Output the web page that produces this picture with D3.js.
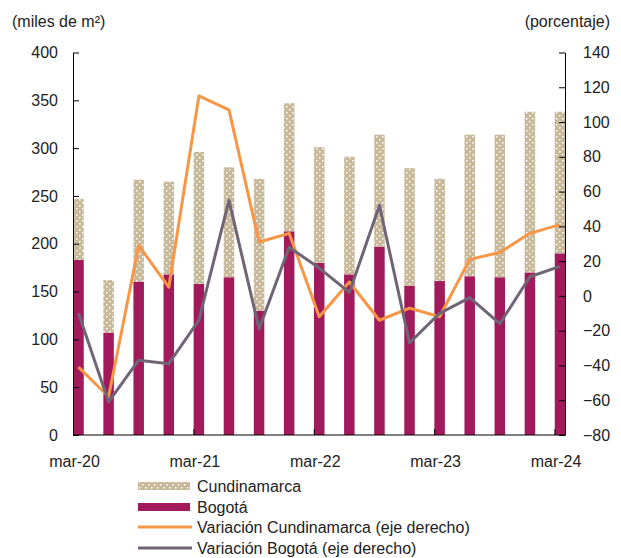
<!DOCTYPE html>
<html>
<head>
<meta charset="utf-8">
<script src="https://cdn.jsdelivr.net/npm/d3@7"></script>
<style>
  body { margin: 0; background: #fff; }
  text { font-family: "Liberation Sans", Arial, sans-serif; fill: #222; }
  .axis path, .axis line { stroke: #000; }
</style>
</head>
<body>
<div class="graph"></div>
<script>
// quarters mar-20 .. mar-24
const quarters = ["mar-20","jun-20","sep-20","dic-20","mar-21","jun-21","sep-21","dic-21",
                  "mar-22","jun-22","sep-22","dic-22","mar-23","jun-23","sep-23","dic-23","mar-24"];
const bogota = [183, 107, 160, 168, 158, 165, 130, 213, 180, 168, 197, 156, 161, 166, 165, 170, 190];
const cundinamarca = [64, 55, 107, 97, 138, 115, 138, 134, 121, 123, 117, 123, 107, 148, 149, 168, 148];
const varCundinamarca = [-41, -58, 29, 5, 115, 107, 31, 36, -12, 8, -14, -7, -12, 21, 25, 36, 41];
const varBogota = [-10, -61, -37, -39, -14, 55, -19, 28, 16, 2, 52, -27, -10, -1, -16, 11, 17];
const leftTicks = [0, 50, 100, 150, 200, 250, 300, 350, 400];
const rightTicks = [-80, -60, -40, -20, 0, 20, 40, 60, 80, 100, 120, 140];
const labelIdx = [0, 4, 8, 12, 16];

const width = 621, height = 558;
const m = {left: 73, right: 565, top: 52.5, bottom: 435};
const barW = 10.5;
const fs = "16px";

const svg = d3.select(".graph").append("svg")
    .attr("width", width)
    .attr("height", height);

//pattern for Cundinamarca
const pat = svg.append("defs").append("pattern")
    .attr("id", "dots")
    .attr("patternUnits", "userSpaceOnUse")
    .attr("width", 6).attr("height", 6);
pat.append("rect").attr("width", 6).attr("height", 6).attr("fill", "#c9b99b");
pat.append("rect").attr("x", 1).attr("y", 1).attr("width", 1.5).attr("height", 1.5).attr("fill", "#fff");
pat.append("rect").attr("x", 4).attr("y", 4).attr("width", 1.5).attr("height", 1.5).attr("fill", "#fff");

//Scales
const x = d3.scaleLinear()
    .domain([0, quarters.length - 1])
    .range([m.left + 5.5, m.right - 5]);

const y = d3.scaleLinear()
    .domain([0, 400])
    .range([m.bottom, m.top]);

const y2 = d3.scaleLinear()
    .domain([-80, 140])
    .range([m.bottom, m.top]);

//Bars
const rows = quarters.map((q, i) => ({i: i, bog: bogota[i], cun: cundinamarca[i]}));
const stack = d3.stack().keys(["bog", "cun"])(rows);
const fills = {bog: "#a21a5c", cun: "url(#dots)"};

stack.forEach(layer => {
    svg.append("g").selectAll("rect")
        .data(layer)
        .join("rect")
        .attr("x", d => x(d.data.i) - barW / 2)
        .attr("width", barW)
        .attr("y", d => y(d[1]))
        .attr("height", d => y(d[0]) - y(d[1]))
        .attr("fill", fills[layer.key]);
});

//Lines
const line = d3.line()
    .x((d, i) => x(i))
    .y(d => y2(d));

svg.append("path")
    .datum(varCundinamarca)
    .attr("fill", "none")
    .attr("stroke", "#f79646")
    .attr("stroke-width", 3)
    .attr("stroke-linejoin", "round")
    .attr("d", line);

svg.append("path")
    .datum(varBogota)
    .attr("fill", "none")
    .attr("stroke", "#6f6577")
    .attr("stroke-width", 3)
    .attr("stroke-linejoin", "round")
    .attr("d", line);

//Axes
const axisLeft = svg.append("g")
    .attr("class", "axis")
    .attr("transform", "translate(" + m.left + ",0)")
    .call(d3.axisLeft(y).tickValues(leftTicks).tickSize(-6).tickSizeOuter(0).tickPadding(15));

const axisRight = svg.append("g")
    .attr("class", "axis")
    .attr("transform", "translate(" + m.right + ",0)")
    .call(d3.axisRight(y2).tickValues(rightTicks).tickSize(-6).tickSizeOuter(0).tickPadding(18));

[axisLeft, axisRight].forEach(a => a.selectAll("text")
    .attr("font-size", fs)
    .attr("font-family", "Liberation Sans, Arial, sans-serif")
    .attr("fill", "#222"));

//x axis
svg.append("line")
    .attr("x1", m.left).attr("x2", m.right)
    .attr("y1", m.bottom).attr("y2", m.bottom)
    .attr("stroke", "#000");

svg.append("g").selectAll("line")
    .data(labelIdx)
    .join("line")
    .attr("x1", d => x(d) - 5).attr("x2", d => x(d) - 5)
    .attr("y1", m.bottom).attr("y2", m.bottom - 6)
    .attr("stroke", "#000");

svg.append("g").selectAll("text")
    .data(labelIdx)
    .join("text")
    .attr("x", d => x(d) - 4)
    .attr("y", m.bottom + 32)
    .attr("text-anchor", "middle")
    .attr("font-size", fs)
    .text(d => quarters[d]);

//Axis titles
svg.append("text")
    .attr("x", 12).attr("y", 27)
    .attr("font-size", fs)
    .text("(miles de m²)");

svg.append("text")
    .attr("x", 610).attr("y", 27)
    .attr("text-anchor", "end")
    .attr("font-size", fs)
    .text("(porcentaje)");

//Legend
const legend = [
    {name: "Cundinamarca", type: "bar", fill: "url(#dots)"},
    {name: "Bogotá", type: "bar", fill: "#a21a5c"},
    {name: "Variación Cundinamarca (eje derecho)", type: "line", fill: "#f79646"},
    {name: "Variación Bogotá (eje derecho)", type: "line", fill: "#6f6577"}
];
const legY = [486, 507, 527, 548];

const lg = svg.append("g").selectAll("g")
    .data(legend)
    .join("g")
    .attr("transform", (d, i) => "translate(138," + legY[i] + ")");

lg.filter(d => d.type === "bar").append("rect")
    .attr("x", 0).attr("y", -4)
    .attr("width", 52).attr("height", 8)
    .attr("fill", d => d.fill);

lg.filter(d => d.type === "line").append("line")
    .attr("x1", 0).attr("x2", 54)
    .attr("y1", 0).attr("y2", 0)
    .attr("stroke", d => d.fill)
    .attr("stroke-width", 3);

lg.append("text")
    .attr("x", 59).attr("y", 5.5)
    .attr("font-size", fs)
    .text(d => d.name);
</script>
</body>
</html>
